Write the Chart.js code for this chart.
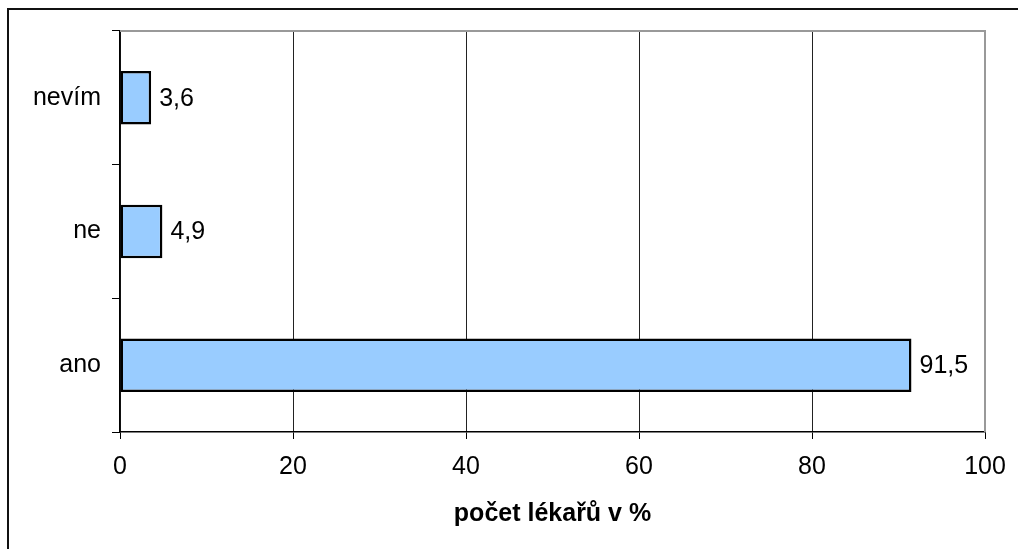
<!DOCTYPE html>
<html>
<head>
<meta charset="utf-8">
<script src="https://cdn.jsdelivr.net/npm/chart.js@4/dist/chart.umd.min.js"></script>
<style>
    html, body { margin: 0; padding: 0; background: #fff; }
    #wrap { position: relative; width: 1019px; height: 549px; }
</style>
</head>
<body>
<div id="wrap"><canvas id="answers-chart"></canvas></div>
<script>
// answers, listed top to bottom
const answers = ['nevím', 'ne', 'ano'];
const doctorsPct = [3.6, 4.9, 91.5];
const xTicks = [0, 20, 40, 60, 80, 100];
const xTitle = 'počet lékařů v %';

const FONT = '"Liberation Sans", Arial, sans-serif';

// frame around the whole picture plus top/right border of the plot area
const framePlugin = {
    id: 'frame',
    beforeDatasetsDraw(chart) {
        const ctx = chart.ctx;
        const a = chart.chartArea;
        ctx.save();
        ctx.strokeStyle = '#999';
        ctx.lineWidth = 2;
        ctx.beginPath();
        ctx.moveTo(a.left, a.top);
        ctx.lineTo(a.right, a.top);
        ctx.lineTo(a.right, a.bottom);
        ctx.stroke();
        ctx.restore();
    },
    afterDraw(chart) {
        const ctx = chart.ctx;
        ctx.save();
        ctx.strokeStyle = '#111';
        ctx.lineWidth = 2;
        ctx.beginPath();
        ctx.moveTo(8, chart.height);
        ctx.lineTo(8, 9);
        ctx.lineTo(1018, 9);
        ctx.stroke();
        ctx.restore();
    }
};

// value labels to the right of each bar, decimal comma
const valueLabels = {
    id: 'valueLabels',
    afterDatasetsDraw(chart) {
        const ctx = chart.ctx;
        const meta = chart.getDatasetMeta(0);
        ctx.save();
        ctx.font = '25px ' + FONT;
        ctx.fillStyle = '#000';
        ctx.textAlign = 'left';
        ctx.textBaseline = 'middle';
        meta.data.forEach((bar, i) => {
            const v = chart.data.datasets[0].data[i];
            ctx.fillText(String(v).replace('.', ','), bar.x + 8, bar.y + 1);
        });
        ctx.restore();
    }
};

new Chart(document.getElementById('answers-chart'), {
    type: 'bar',
    data: {
        labels: answers,
        datasets: [{
            data: doctorsPct,
            backgroundColor: '#99CCFF',
            borderColor: '#000',
            borderWidth: 2.5,
            borderSkipped: false,
            categoryPercentage: 1,
            barPercentage: 0.4
        }]
    },
    options: {
        indexAxis: 'y',
        responsive: true,
        maintainAspectRatio: false,
        animation: false,
        layout: { padding: { top: 31, right: 34, left: 0, bottom: 0 } },
        plugins: {
            legend: { display: false },
            tooltip: { enabled: false }
        },
        scales: {
            x: {
                min: 0,
                max: 100,
                afterBuildTicks: (scale) => { scale.ticks = xTicks.map(v => ({ value: v })); },
                afterFit: (scale) => { scale.height = 117; },
                border: { color: '#000', width: 1.5 },
                grid: {
                    color: (c) => (c.tick && c.tick.value === 100) ? 'rgba(0,0,0,0)' : '#222',
                    tickColor: '#000',
                    tickLength: 7,
                    lineWidth: 1
                },
                ticks: {
                    color: '#000',
                    padding: 13,
                    font: { family: FONT, size: 25 }
                },
                title: {
                    display: true,
                    text: xTitle,
                    color: '#000',
                    font: { family: FONT, size: 25, weight: 'bold' },
                    padding: { top: 0, bottom: 20 }
                }
            },
            y: {
                afterFit: (scale) => { scale.width = 120; },
                border: { color: '#000', width: 1.5 },
                grid: {
                    offset: true,
                    drawOnChartArea: false,
                    tickColor: '#000',
                    tickLength: 8
                },
                ticks: {
                    color: '#000',
                    padding: 11,
                    font: { family: FONT, size: 25 }
                }
            }
        }
    },
    plugins: [framePlugin, valueLabels]
});
</script>
</body>
</html>
